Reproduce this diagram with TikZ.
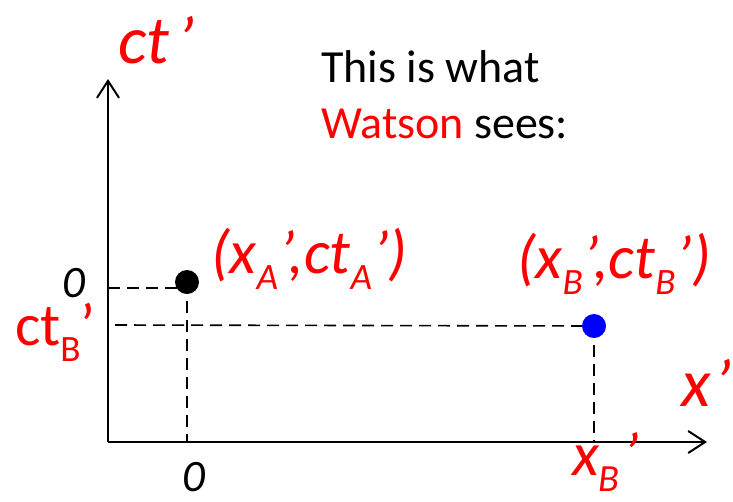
\documentclass[tikz,border=0pt]{standalone}
\usepackage{fontspec}
\usepackage{graphicx}
\setmainfont{Carlito}
\usetikzlibrary{positioning, arrows.meta, calc}
\tikzset{
  axis/.style={line width=2pt, -{Straight Barb[length=17pt, width=22pt, line width=2pt]}},
  guide/.style={line width=1.6pt, dash pattern=on 12pt off 7pt},
  dot/.style={circle, inner sep=0pt, minimum size=24pt},
  redlabel/.style={text=red, font=\fontsize{62}{74}\selectfont\itshape},
  biglabel/.style={text=red, font=\fontsize{68}{80}\selectfont\itshape},
  zerolabel/.style={font=\fontsize{45}{54}\selectfont\itshape}
}
\newcommand{\lowidx}[2][0.6]{\raisebox{-0.27em}{\scalebox{#1}{#2}}}
\newcommand{\pr}{\kern1pt’}

\begin{document}
\begin{tikzpicture}[
    x=1pt, y=-1pt,
    every node/.style={inner sep=0pt, outer sep=0pt}
]
    \useasboundingbox (0,0) rectangle (733,501);
    \coordinate (origin) at (108,442);
    \coordinate (ytip) at (108,79);
    \coordinate (xtip) at (707,442);
    \coordinate (pA) at (187,282);
    \coordinate (pB) at (594,326);
    \coordinate (yA) at (108,288);
    \coordinate (yB) at (115,325);

    \draw [guide] (yA) -- (yA -| pA);
    \draw [guide] (yB) -- (pB);
    \draw [guide] (pA) -- (pA |- origin);
    \draw [guide] (pB) -- (pB |- origin);
    \draw [axis] (origin) -- (ytip);
    \draw [axis] (origin) -- (xtip);

    \node (dotA) [dot, fill=black] at (pA) {};
    \node (dotB) [dot, fill=blue] at (pB) {};

    \node (ctlabel) [biglabel, anchor=base west] at (118,63) {ct\kern8pt’};
    \node (xlabel) [biglabel, anchor=base west] at (681,406) {x\kern4pt’};
    \node (caption) [font=\fontsize{46}{56}\selectfont, align=left, anchor=base west] at (321,138) {This is what\\\textcolor{red}{Watson} sees:};
    \node (labelA) [redlabel, anchor=base west] at (211,273) {(x\lowidx{A}\pr,ct\lowidx{A}\pr)};
    \node (labelB) [redlabel, anchor=base west] at (517,278) {(x\lowidx{B}\pr,ct\lowidx{B}\pr)};
    \node (zeroy) [zerolabel, anchor=base west] at (62,297) {0};
    \node (zerox) [zerolabel, anchor=base west] at (182,491) {0};
    \node (ctB) [text=red, font=\fontsize{60}{72}\selectfont, anchor=base west] at (15,345) {ct\lowidx[0.62]{B}’};
    \node (xB) [redlabel, anchor=base west] at (572,475) {x\lowidx[0.62]{B}\kern4pt’};
\end{tikzpicture}
\end{document}
